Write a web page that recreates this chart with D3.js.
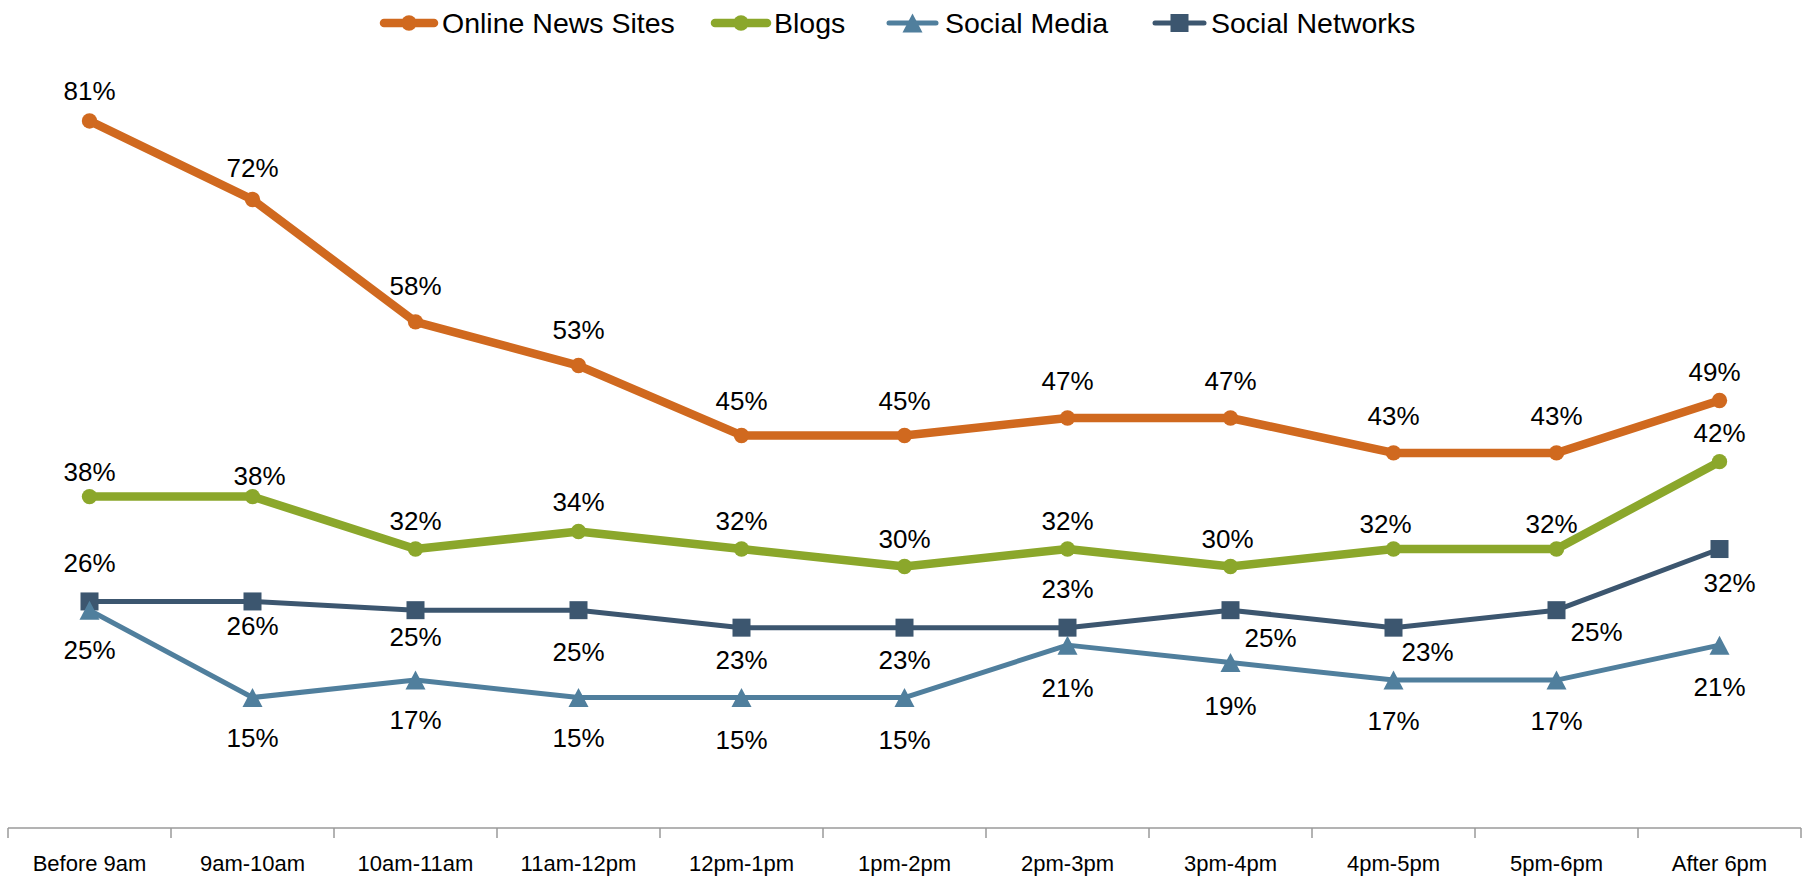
<!DOCTYPE html>
<html>
<head>
<meta charset="utf-8">
<script src="https://cdn.jsdelivr.net/npm/d3@7"></script>
<style>
  html, body { margin: 0; padding: 0; background: #fff; }
  svg { display: block; }
</style>
</head>
<body>
<svg id="chart" width="1812" height="881"></svg>
<script>
// Time slots along the x axis
const timeSlots = ["Before 9am", "9am-10am", "10am-11am", "11am-12pm", "12pm-1pm",
  "1pm-2pm", "2pm-3pm", "3pm-4pm", "4pm-5pm", "5pm-6pm", "After 6pm"];

// Share of respondents per source (%)
const onlineNewsSites = [81, 72, 58, 53, 45, 45, 47, 47, 43, 43, 49];
const blogs           = [38, 38, 32, 34, 32, 30, 32, 30, 32, 32, 42];
const socialMedia     = [25, 15, 17, 15, 15, 15, 21, 19, 17, 17, 21];
const socialNetworks  = [26, 26, 25, 25, 23, 23, 23, 25, 23, 25, 32];

// Value-label nudges (pixels from the point to the label centre)
const onlineNewsLabelDx = [0, 0, 0, 0, 0, 0, 0, 0, 0, 0, -5];
const onlineNewsLabelDy = [-30, -32, -36, -36, -35, -35, -37, -37, -37, -37, -29];
const blogsLabelDx = [0, 7, 0, 0, 0, 0, 0, -3, -8, -5, 0];
const blogsLabelDy = [-25, -21, -28, -30, -28, -28, -28, -28, -25, -25, -29];
const socialMediaLabelDx = [0, 0, 0, 0, 0, 0, 0, 0, 0, 0, 0];
const socialMediaLabelDy = [40, 40, 40, 40, 42, 42, 43, 43, 41, 41, 42];
const socialNetworksLabelDx = [0, 0, 0, 0, 0, 0, 0, 40, 34, 40, 10];
const socialNetworksLabelDy = [-39, 24, 27, 42, 32, 32, -39, 28, 24, 22, 34];

const series = [
  { name: "Online News Sites", values: onlineNewsSites, dx: onlineNewsLabelDx, dy: onlineNewsLabelDy,
    color: "#D0691F", width: 8.5, marker: "circle" },
  { name: "Blogs", values: blogs, dx: blogsLabelDx, dy: blogsLabelDy,
    color: "#8BA72B", width: 8.5, marker: "circle" },
  { name: "Social Media", values: socialMedia, dx: socialMediaLabelDx, dy: socialMediaLabelDy,
    color: "#507F9D", width: 5, marker: "triangle" },
  { name: "Social Networks", values: socialNetworks, dx: socialNetworksLabelDx, dy: socialNetworksLabelDy,
    color: "#3C566F", width: 5, marker: "square" }
];

const svg = d3.select("#chart");
const sans = "'Liberation Sans', Arial, sans-serif";

const x = d3.scaleBand().domain(timeSlots).range([8, 1801]).paddingInner(0).paddingOuter(0);
const y = d3.scaleLinear().domain([0, 90]).range([828.6, 42.3]);
const cx = d => x(d) + x.bandwidth() / 2;

// Category axis along the bottom, with tick marks between the slots
const axisY = 828;
const axisG = svg.append("g").attr("transform", `translate(0,${axisY})`);
axisG.append("line")
  .attr("x1", x.range()[0]).attr("x2", x.range()[1])
  .attr("stroke", "#9a9a9a").attr("stroke-width", 1.5);
const bounds = timeSlots.map(d => x(d)).concat([x.range()[1]]);
axisG.selectAll("line.tick").data(bounds).join("line")
  .attr("class", "tick")
  .attr("x1", d => d).attr("x2", d => d)
  .attr("y1", 0).attr("y2", 10)
  .attr("stroke", "#9a9a9a").attr("stroke-width", 1.5);
axisG.selectAll("text").data(timeSlots).join("text")
  .attr("x", d => cx(d)).attr("y", 43)
  .attr("text-anchor", "middle")
  .attr("font-family", sans)
  .attr("font-size", 22)
  .attr("fill", "#000")
  .text(d => d);

// Point markers
function drawMarker(g, type, color) {
  if (type === "circle") {
    g.append("circle").attr("r", 7.7).attr("fill", color);
  } else if (type === "triangle") {
    const s = 20, h = 19;
    g.append("path")
      .attr("d", `M0,${-h / 2}L${s / 2},${h / 2}L${-s / 2},${h / 2}Z`)
      .attr("fill", color);
  } else {
    const s = 18;
    g.append("rect").attr("x", -s / 2).attr("y", -s / 2).attr("width", s).attr("height", s).attr("fill", color);
  }
}

const line = d3.line().x((d, i) => cx(timeSlots[i])).y(d => y(d));

// Lines and markers, bottom series first so the orange line sits on top
series.slice().reverse().forEach(s => {
  const g = svg.append("g");
  g.append("path").datum(s.values)
    .attr("d", line)
    .attr("fill", "none")
    .attr("stroke", s.color)
    .attr("stroke-width", s.width)
    .attr("stroke-linejoin", "round");
  s.values.forEach((v, i) => {
    const m = g.append("g").attr("transform", `translate(${cx(timeSlots[i])},${y(v)})`);
    drawMarker(m, s.marker, s.color);
  });
});

// Value labels
series.forEach(s => {
  svg.append("g").selectAll("text").data(s.values).join("text")
    .attr("x", (v, i) => cx(timeSlots[i]) + s.dx[i])
    .attr("y", (v, i) => y(v) + s.dy[i])
    .attr("dy", "0.35em")
    .attr("text-anchor", "middle")
    .attr("font-family", sans)
    .attr("font-size", 26)
    .attr("fill", "#000")
    .text(v => v + "%");
});

// Legend across the top: line sample with marker, then the series name
const legendItems = [
  { s: series[0], lx: 380, lx2: 438, tx: 442 },
  { s: series[1], lx: 711, lx2: 771, tx: 774 },
  { s: series[2], lx: 885, lx2: 940, tx: 945 },
  { s: series[3], lx: 1151, lx2: 1208, tx: 1211 }
];
const legendY = 23;
legendItems.forEach(({ s, lx, lx2, tx }) => {
  const g = svg.append("g");
  g.append("line")
    .attr("x1", lx + 4).attr("x2", lx2 - 4)
    .attr("y1", legendY).attr("y2", legendY)
    .attr("stroke", s.color).attr("stroke-width", s.width)
    .attr("stroke-linecap", "round");
  const m = g.append("g").attr("transform", `translate(${(lx + lx2) / 2},${legendY})`);
  drawMarker(m, s.marker, s.color);
  g.append("text")
    .attr("x", tx).attr("y", legendY)
    .attr("dy", "0.35em")
    .attr("font-family", sans)
    .attr("font-size", 28.5)
    .attr("fill", "#000")
    .text(s.name);
});
</script>
</body>
</html>
